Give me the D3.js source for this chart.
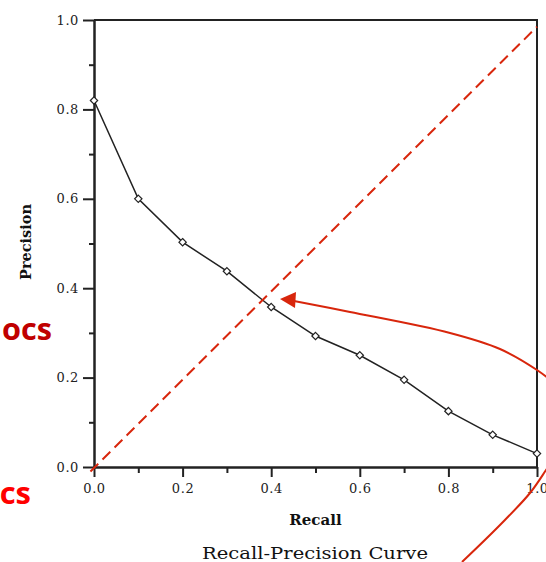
<!DOCTYPE html>
<html><head><meta charset="utf-8">
<script src="https://cdn.jsdelivr.net/npm/d3@7"></script>
<style>
html,body{margin:0;padding:0;background:#fff;}
svg{display:block;}
</style></head>
<body>
<svg id="chart" width="546" height="562"></svg>
<script>
// ---- data ----
const recall = [0.0, 0.1, 0.2, 0.3, 0.4, 0.5, 0.6, 0.7, 0.8, 0.9, 1.0];
const precision = [0.82, 0.60, 0.503, 0.438, 0.358, 0.293, 0.25, 0.195, 0.125, 0.072, 0.03];
const majorTicks = [0.0, 0.2, 0.4, 0.6, 0.8, 1.0];
const minorTicks = [0.1, 0.3, 0.5, 0.7, 0.9];
const diagonal = [[-0.008, -0.01], [1.0, 0.985]];
// annotation arrow (pixel-space guide points of the red hand-drawn curves)
const arrowCurve = [[294, 301], [350, 312], [450, 333], [500, 349], [537, 370], [560, 388]];
const lowerCurve = [[560, 448], [546, 470], [530, 493], [500, 525], [462, 562]];

const svg = d3.select("#chart");
const L = 94, R = 537, T = 20, B = 467;
const x = d3.scaleLinear().domain([0, 1]).range([L, R]);
const y = d3.scaleLinear().domain([0, 1]).range([B, T]);
const tickFont = "'DejaVu Serif', 'Liberation Serif', serif";

// frame top and right
svg.append("line").attr("x1", L).attr("x2", R).attr("y1", T).attr("y2", T)
  .attr("stroke", "#222").attr("stroke-width", 2);
svg.append("line").attr("x1", R).attr("x2", R).attr("y1", T - 1).attr("y2", B)
  .attr("stroke", "#222").attr("stroke-width", 2);

// axes
function styleAxis(g) {
  g.select(".domain").attr("stroke", "#222").attr("stroke-width", 2);
  g.selectAll(".tick line").attr("stroke", "#222").attr("stroke-width", 2);
  g.selectAll("text").attr("font-family", tickFont).attr("font-size", 13)
    .attr("fill", "#222").attr("letter-spacing", "0.6px");
}
const yAxis = svg.append("g").attr("transform", `translate(${L},0)`)
  .call(d3.axisLeft(y).tickValues(majorTicks).tickSize(11).tickSizeOuter(0)
    .tickPadding(4).tickFormat(d3.format(".1f")));
styleAxis(yAxis);
const yMinor = svg.append("g").attr("transform", `translate(${L},0)`)
  .call(d3.axisLeft(y).tickValues(minorTicks).tickSize(5).tickSizeOuter(0).tickFormat(""));
styleAxis(yMinor);

const xAxis = svg.append("g").attr("transform", `translate(0,${B})`)
  .call(d3.axisBottom(x).tickValues(majorTicks).tickSize(10).tickSizeOuter(0)
    .tickPadding(7).tickFormat(d3.format(".1f")));
styleAxis(xAxis);
const xMinor = svg.append("g").attr("transform", `translate(0,${B})`)
  .call(d3.axisBottom(x).tickValues(minorTicks).tickSize(6).tickSizeOuter(0).tickFormat(""));
styleAxis(xMinor);

// axis titles
svg.append("text").attr("x", (L + R) / 2).attr("y", 525).attr("text-anchor", "middle")
  .attr("font-family", tickFont).attr("font-weight", "bold").attr("font-size", 15)
  .attr("fill", "#111").text("Recall");
svg.append("text").attr("transform", "translate(31,242) rotate(-90)").attr("text-anchor", "middle")
  .attr("font-family", tickFont).attr("font-weight", "bold").attr("font-size", 14)
  .attr("fill", "#111").attr("textLength", 76).attr("lengthAdjust", "spacingAndGlyphs")
  .text("Precision");
svg.append("text").attr("x", 315).attr("y", 559).attr("text-anchor", "middle")
  .attr("font-family", tickFont).attr("font-size", 17)
  .attr("fill", "#111").attr("textLength", 226).attr("lengthAdjust", "spacingAndGlyphs")
  .text("Recall-Precision Curve");

// data line and markers
const pts = recall.map((r, i) => [r, precision[i]]);
svg.append("path").datum(pts)
  .attr("d", d3.line().x(d => x(d[0])).y(d => y(d[1])))
  .attr("fill", "none").attr("stroke", "#222").attr("stroke-width", 1.5);
svg.selectAll(".pt").data(pts).join("path").attr("class", "pt")
  .attr("transform", d => `translate(${x(d[0])},${y(d[1])})`)
  .attr("d", d3.symbol().type(d3.symbolDiamond2).size(34))
  .attr("fill", "#fff").attr("stroke", "#222").attr("stroke-width", 1.2);

// red dashed diagonal
svg.append("path").datum(diagonal)
  .attr("d", d3.line().x(d => x(d[0])).y(d => y(d[1])))
  .attr("fill", "none").attr("stroke", "#d8260c").attr("stroke-width", 2)
  .attr("stroke-dasharray", "11,6");

// red annotation curves
const curve = d3.line().curve(d3.curveCatmullRom.alpha(0.5));
svg.append("path").datum(arrowCurve).attr("d", curve)
  .attr("fill", "none").attr("stroke", "#d8260c").attr("stroke-width", 2);
svg.append("path").datum(lowerCurve).attr("d", curve)
  .attr("fill", "none").attr("stroke", "#d8260c").attr("stroke-width", 2);
// arrowhead
const tip = [280, 299];
svg.append("path")
  .attr("d", d3.line()([tip, [296, 292], [295, 308]]) + "Z")
  .attr("fill", "#d8260c");

// red side labels
svg.append("text").attr("x", 52).attr("y", 340).attr("text-anchor", "end")
  .attr("font-family", "'Open Sans', Lato, sans-serif").attr("font-weight", "bold")
  .attr("font-size", 31).attr("fill", "#c00000").attr("textLength", 50)
  .attr("lengthAdjust", "spacingAndGlyphs").text("ocs");
svg.append("text").attr("x", 31).attr("y", 504).attr("text-anchor", "end")
  .attr("font-family", "'Open Sans', Lato, sans-serif").attr("font-weight", "bold")
  .attr("font-size", 31).attr("fill", "#ff0000").text("cs");
</script>
</body></html>
